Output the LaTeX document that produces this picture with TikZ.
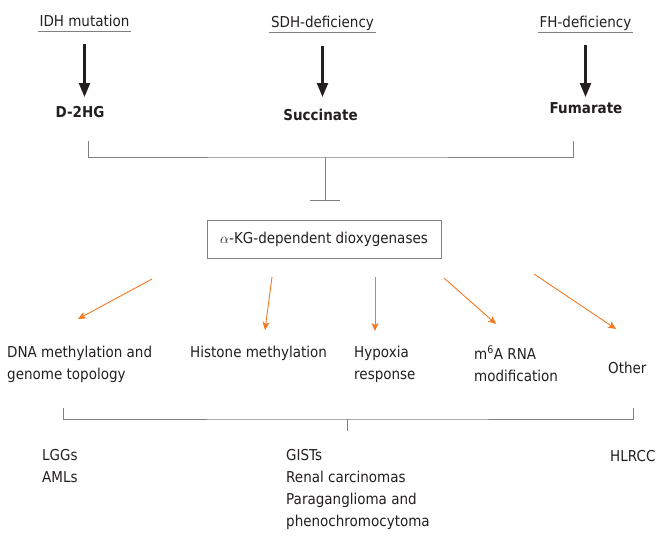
\documentclass[tikz,border=0pt]{standalone}
\usepackage{fontspec}
\setmainfont{DejaVu Sans}[FakeStretch=0.9]
\usetikzlibrary{arrows.meta}

\definecolor{txt}{HTML}{231F20}
\definecolor{linegray}{HTML}{808080}
\definecolor{arrorange}{HTML}{F47920}

\tikzset{
  lbl/.style={font=\fontsize{15}{22}\selectfont, text=txt, inner sep=0pt, align=left},
  cause/.style={lbl, inner xsep=1.5pt, inner ysep=2pt, text height=11pt, text depth=3pt},
  metab/.style={lbl, font=\fontsize{15}{22}\selectfont\bfseries},
  grayline/.style={draw=linegray, line width=0.8pt},
  bigarrow/.style={draw=txt, line width=2.2pt, -{Triangle[length=14pt,width=11pt]}},
  orarrow/.style={draw=arrorange, line width=0.9pt, -{Stealth[length=8pt,width=7pt,inset=2pt]}},
}

\begin{document}
\begin{tikzpicture}[x=1pt,y=-1pt]
\useasboundingbox (0,0) rectangle (661,547);

% 病因
\node[cause, anchor=base] (idh) at (84.5,26) {IDH mutation};
\node[cause, anchor=base] (sdh) at (322.5,27.5) {SDH-deficiency};
\node[cause, anchor=base] (fh) at (585.5,27) {FH-deficiency};
\foreach \n in {idh,sdh,fh}
  \draw[grayline] (\n.south west) -- (\n.south east);

% 代谢物
\node[metab, anchor=base] (d2hg) at (80,117) {D-2HG};
\node[metab, anchor=base] (succ) at (320.5,120) {Succinate};
\node[metab, anchor=base] (fum) at (586,113) {Fumarate};

% 粗箭头
\coordinate (tips) at (0,97);
\foreach \n in {idh,sdh,fh}
  \draw[bigarrow, shorten <=13pt] (\n.south) -- (\n.south |- tips);

% 括号与抑制
\coordinate (jl) at (88,141);
\coordinate (jr) at (573,141);
\coordinate (jm) at (325,157);
\draw[grayline] (jl) |- (jm) -| (jr);

\node[lbl, draw=linegray, line width=0.8pt, minimum width=234pt, minimum height=38pt,
  align=center] (akg) at (324,239) {$\alpha$-KG-dependent dioxygenases};
\draw[grayline, -{Bar[width=30pt]}, shorten >=19pt] (jm) -- (jm |- akg.north);

% 下游作用（多行节点的 base 在最后一行）
\node[lbl, anchor=base west] (dna) at (7,379) {DNA methylation and\\genome topology};
\node[lbl, anchor=base west] (hist) at (190,357) {Histone methylation};
\node[lbl, anchor=base west] (hyp) at (354,379) {Hypoxia\\response};
\node[lbl, anchor=base west] (m6a) at (474,381) {m\textsuperscript{6}A RNA\\modification};
\node[lbl, anchor=base west] (other) at (608,373) {Other};

% 橙色箭头
\coordinate (s1) at (152,279); \coordinate (e1) at (78,319);
\coordinate (s2) at (272,277); \coordinate (e2) at (265,330);
\coordinate (s3) at (375,277); \coordinate (e3) at (375,331);
\coordinate (s4) at (444,278); \coordinate (e4) at (496,324);
\coordinate (s5) at (534,274); \coordinate (e5) at (616,329);
\foreach \i in {1,...,5}
  \draw[orarrow] (s\i) -- (e\i);

% 下方括号
\coordinate (bl) at (63,408);
\coordinate (br) at (633,408);
\coordinate (bm) at (347,419);
\coordinate (bt) at (347,431);
\draw[grayline] (bl) |- (bm) -| (br);
\draw[grayline] (bm) -- (bt);

% 肿瘤
\node[lbl, anchor=base west] (lgg) at (42,482) {LGGs\\AMLs};
\node[lbl, anchor=base west] (gist) at (286,526) {GISTs\\Renal carcinomas\\Paraganglioma and\\phenochromocytoma};
\node[lbl, anchor=base west] (hlrcc) at (610,461) {HLRCC};
\end{tikzpicture}
\end{document}
